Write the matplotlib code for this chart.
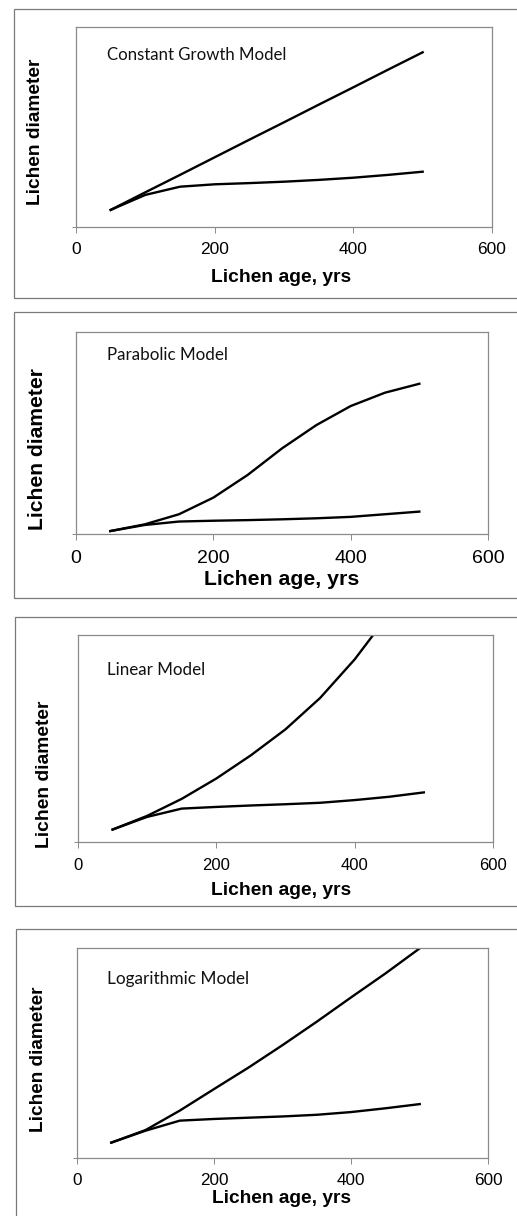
import matplotlib
matplotlib.use("Agg")
import matplotlib.pyplot as plt
from matplotlib.patches import Rectangle

# ---------------- data ----------------
age = [50, 100, 150, 200, 250, 300, 350, 400, 450, 500]

titles = ["Constant Growth Model", "Parabolic Model", "Linear Model", "Logarithmic Model"]

model_constant = [8.7, 17.5, 26.2, 35.0, 43.8, 52.5, 61.3, 70.0, 78.8, 87.5]
observed_constant = [8.7, 16.2, 20.3, 21.5, 22.1, 22.8, 23.7, 24.8, 26.2, 27.8]

model_parabolic = [1.6, 4.9, 9.9, 18.1, 29.3, 42.4, 53.9, 63.3, 69.9, 74.3]
observed_parabolic = [1.6, 4.6, 6.3, 6.7, 7.0, 7.4, 7.9, 8.6, 9.9, 11.2]

model_linear = [6.0, 12.6, 20.8, 30.6, 41.8, 54.3, 69.4, 88.0, 110.0, 134.0]
observed_linear = [6.0, 12.1, 16.1, 16.9, 17.6, 18.2, 18.9, 20.2, 21.8, 23.9]

model_log = [7.2, 13.2, 22.5, 32.8, 43.0, 53.8, 65.0, 76.6, 88.0, 100.0]
observed_log = [7.2, 12.9, 17.7, 18.5, 19.1, 19.7, 20.5, 21.8, 23.6, 25.6]

models = [model_constant, model_parabolic, model_linear, model_log]
observed = [observed_constant, observed_parabolic, observed_linear, observed_log]

xticks = [0, 200, 400, 600]
xlabel = "Lichen age, yrs"
ylabel = "Lichen diameter"

# ---------------- layout (pixels) ----------------
W, H = 517, 1216
fig = plt.figure(figsize=(W / 100, H / 100), dpi=100)
fig.patch.set_facecolor("white")

def frac_rect(l, t, r, b):
    return [l / W, 1 - b / H, (r - l) / W, (b - t) / H]

axes_px = [(76, 27.3, 492, 227.3),
           (76, 331.7, 488, 534.3),
           (78, 634.5, 493, 842),
           (77, 948.3, 488.3, 1157.7)]
outer_px = [(14.3, 9, 297.7),
            (14.3, 312.3, 597.7),
            (15.3, 616.7, 906),
            (16, 929, 1230)]
tick_fs = [12.5, 14, 12, 12.3]
tick_pad = [6.0, 7.0, 7.2, 6.9]
xlab_fs = [13.9, 15.3, 13.9, 13.8]
ylab_fs = [13.8, 15.2, 13.9, 13.7]
xlab_base = [281.7, 585, 895, 1203.3]
ylab_x = [36, 37.2, 45, 38.3]
ylab_y = [131.5, 449, 774, 1059.7]
title_base = [60, 360, 675, 984]
title_w = [180, 121.7, 98.3, 142.7]

gray = "#8a8a8a"
label_font = ["Liberation Sans", "DejaVu Sans"]

renderer = fig.canvas.get_renderer()

for i in range(4):
    # outer framing box
    l, t, b = outer_px[i]
    fig.patches.append(Rectangle((l / W, 1 - b / H), (W + 20 - l) / W, (b - t) / H,
                                 transform=fig.transFigure, fill=False,
                                 edgecolor="#7a7a7a", linewidth=0.9))

    ax = fig.add_axes(frac_rect(*axes_px[i]))
    ax.plot(age, models[i], color="black", lw=1.7, solid_joinstyle="round")
    ax.plot(age, observed[i], color="black", lw=1.7, solid_joinstyle="round")
    ax.set_xlim(0, 600)
    ax.set_ylim(0, 100)
    ax.set_xticks(xticks)
    ax.set_xticklabels([str(v) for v in xticks], fontsize=tick_fs[i], family=label_font)
    ax.set_yticks([0])
    ax.set_yticklabels([""])
    ax.tick_params(axis="x", direction="out", length=4.3, width=0.7, color=gray, pad=tick_pad[i])
    ax.tick_params(axis="y", direction="out", length=2.7, width=0.7, color=gray)
    for s in ax.spines.values():
        s.set_color(gray)
        s.set_linewidth(0.9)

    fig.text(281.5 / W, 1 - xlab_base[i] / H, xlabel, ha="center", va="baseline",
             fontsize=xlab_fs[i], fontweight="bold", family=label_font)
    fig.text(ylab_x[i] / W, 1 - ylab_y[i] / H, ylabel, ha="center", va="center",
             rotation=90, fontsize=ylab_fs[i], fontweight="bold", family=label_font)

    tt = fig.text(106.7 / W, 1 - title_base[i] / H, titles[i], ha="left", va="baseline",
                  fontsize=12, family=["Lato", "DejaVu Sans"], color="#111111")
    for _ in range(2):
        w = tt.get_window_extent(renderer).width
        tt.set_fontsize(tt.get_fontsize() * title_w[i] / w)

fig.savefig("out.png", dpi=100, facecolor="white")
